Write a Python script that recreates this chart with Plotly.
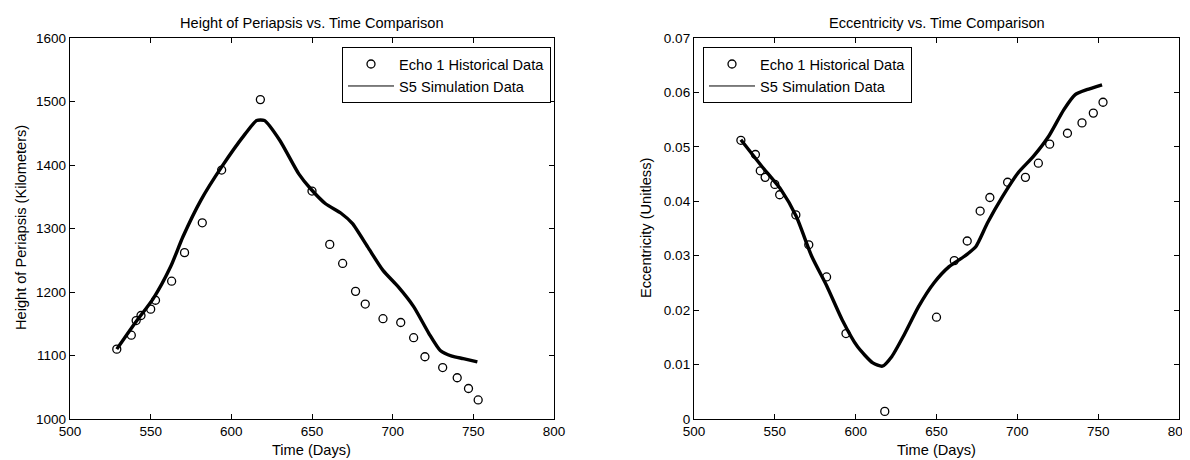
import plotly.graph_objects as go

# ---- Historical data (shared epochs) ----
hist_days = [529, 538, 541, 544, 550, 553, 563, 571, 582, 594, 618, 650,
             661, 669, 677, 683, 694, 705, 713, 720, 731, 740, 747, 753]
hist_height = [1110, 1132, 1155, 1163, 1173, 1187, 1217, 1262, 1309, 1392, 1503, 1359,
               1275, 1245, 1201, 1181, 1158, 1152, 1128, 1098, 1081, 1065, 1048, 1030]
hist_ecc = [0.0512, 0.0486, 0.0456, 0.0444, 0.0431, 0.0412, 0.0375, 0.0320, 0.0261, 0.0157,
            0.0014, 0.0187, 0.0291, 0.0327, 0.0382, 0.0407, 0.0435, 0.0444, 0.0470, 0.0505,
            0.0525, 0.0544, 0.0562, 0.0582]

# ---- Simulation data ----
sim_h_days = [529, 540, 551.7, 562.4, 570, 581, 594, 608.6, 615.7, 620.5, 630, 641.8, 649,
              658.4, 668, 675, 684.5, 694, 703.5, 713, 722.4, 729.5, 736.7, 743.8, 752.5]
sim_height = [1110, 1150, 1190, 1240, 1287, 1344, 1397, 1449, 1470, 1470, 1439, 1386, 1363,
              1339, 1324, 1308, 1271, 1234, 1208, 1177, 1135, 1108, 1099, 1095, 1090]
sim_e_days = [529, 542, 553.9, 563.3, 572.8, 582.2, 591.7, 601.1, 610.6, 616.5, 622.4, 629.5,
              639, 648.4, 657.8, 667.3, 674.4, 681.5, 690.9, 700.4, 709.8, 719.3, 728.7,
              735.8, 742.9, 752.4]
sim_ecc = [0.0513, 0.0464, 0.0421, 0.0372, 0.0299, 0.0244, 0.0182, 0.0133, 0.0103, 0.0097,
           0.0115, 0.0152, 0.0207, 0.0250, 0.0280, 0.0299, 0.0317, 0.0360, 0.0409, 0.0452,
           0.0482, 0.0519, 0.0568, 0.0596, 0.0605, 0.0614]

hist_name = "Echo 1 Historical Data"
sim_name = "S5 Simulation Data"
titles = ["Height of Periapsis vs. Time Comparison", "Eccentricity vs. Time Comparison"]
ytitles = ["Height of Periapsis (Kilometers)", "Eccentricity (Unitless)"]
xtitle = "Time (Days)"

# page body has an 8px default margin: the figure is sized to fit the window
OFF = 8
W, H = 1190 - OFF, 460 - OFF
FONT = "Liberation Sans, Arial, sans-serif"
TXT = 14.6

def px(x):
    return (x - OFF) / W

def py(y):
    return 1 - (y - OFF) / H

fig = go.Figure()

marker = dict(symbol="circle-open", size=8, color="black", line=dict(width=1.3, color="black"))

# left panel
fig.add_trace(go.Scatter(x=hist_days, y=hist_height, mode="markers", marker=marker,
                         name=hist_name, xaxis="x", yaxis="y", legend="legend"))
fig.add_trace(go.Scatter(x=sim_h_days, y=sim_height, mode="lines",
                         line=dict(color="black", width=3.4, shape="spline", smoothing=0.6),
                         name=sim_name, showlegend=False, xaxis="x", yaxis="y"))
fig.add_trace(go.Scatter(x=[None], y=[None], mode="lines", line=dict(color="black", width=1),
                         name=sim_name, xaxis="x", yaxis="y", legend="legend"))

# right panel
fig.add_trace(go.Scatter(x=hist_days, y=hist_ecc, mode="markers", marker=marker,
                         name=hist_name, xaxis="x2", yaxis="y2", legend="legend2"))
fig.add_trace(go.Scatter(x=sim_e_days, y=sim_ecc, mode="lines",
                         line=dict(color="black", width=3.4, shape="spline", smoothing=0.6),
                         name=sim_name, showlegend=False, xaxis="x2", yaxis="y2"))
fig.add_trace(go.Scatter(x=[None], y=[None], mode="lines", line=dict(color="black", width=1),
                         name=sim_name, xaxis="x2", yaxis="y2", legend="legend2"))

axis_common = dict(showline=True, linecolor="black", linewidth=1.3, mirror="ticks",
                   ticks="inside", ticklen=5, tickcolor="black", showgrid=False,
                   zeroline=False, automargin=False, ticklabeloverflow="allow",
                   tickfont=dict(family=FONT, size=13.5, color="black"))

y_dom = [py(419), py(38)]
leg_font = dict(family=FONT, size=TXT, color="black")
fig.update_layout(
    template="none",
    width=W, height=H,
    margin=dict(l=0, r=0, t=0, b=0, autoexpand=False),
    paper_bgcolor="white", plot_bgcolor="white",
    font=dict(family=FONT, size=13, color="black"),
    xaxis=dict(domain=[px(70), px(554)], range=[500, 800], dtick=50, anchor="y", **axis_common),
    yaxis=dict(domain=y_dom, range=[1000, 1600], dtick=100, anchor="x", **axis_common),
    xaxis2=dict(domain=[px(694), px(1179)], range=[500, 800], dtick=50, anchor="y2", **axis_common),
    yaxis2=dict(domain=y_dom, range=[0, 0.07], dtick=0.01, anchor="x2", **axis_common),
    legend=dict(x=px(551), y=py(47), xanchor="right", yanchor="top", bgcolor="white",
                bordercolor="black", borderwidth=1, itemwidth=46,
                font=leg_font, tracegroupgap=0),
    legend2=dict(x=px(703), y=py(47), xanchor="left", yanchor="top", bgcolor="white",
                 bordercolor="black", borderwidth=1, itemwidth=46,
                 font=leg_font, tracegroupgap=0),
    showlegend=True,
)

ann = []
centers = [(70 + 554) / 2, (694 + 1179) / 2]
ycent = [21, 646]
for i in range(2):
    ann.append(dict(text=titles[i], x=px(centers[i]), y=py(23), xref="paper", yref="paper",
                    showarrow=False, xanchor="center", yanchor="middle",
                    font=dict(family=FONT, size=TXT, color="black")))
    ann.append(dict(text=xtitle, x=px(centers[i]), y=py(450), xref="paper", yref="paper",
                    showarrow=False, xanchor="center", yanchor="middle",
                    font=dict(family=FONT, size=TXT, color="black")))
    ann.append(dict(text=ytitles[i], x=px(ycent[i]), y=py(228), xref="paper", yref="paper",
                    showarrow=False, xanchor="center", yanchor="middle", textangle=-90,
                    font=dict(family=FONT, size=TXT, color="black")))
fig.update_layout(annotations=ann)

fig.write_html("out.html")
